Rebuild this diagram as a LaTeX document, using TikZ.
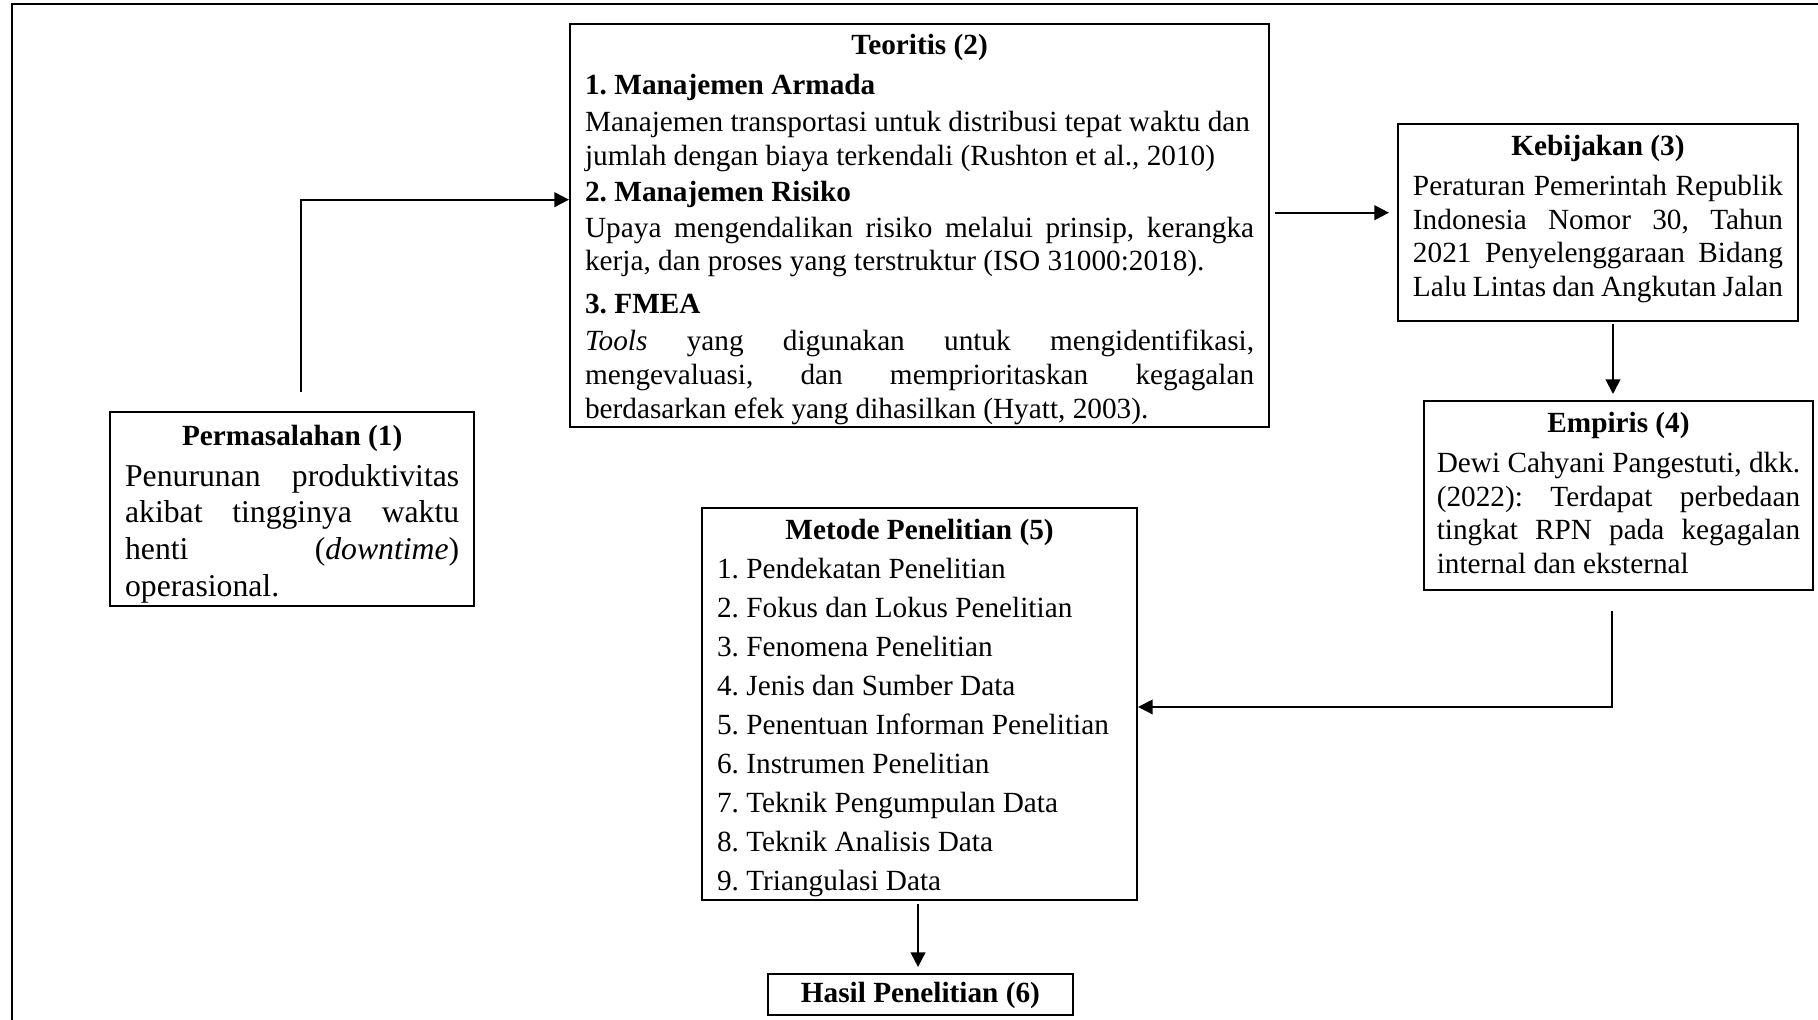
\documentclass[tikz,border=0pt]{standalone}
\usepackage{fontspec}
\setmainfont{Liberation Serif}
\usetikzlibrary{arrows.meta,calc}

\frenchspacing
\newcommand{\penuh}[1]{{\spaceskip=0pt\xspaceskip=0pt\makebox[\linewidth][s]{#1}}}
\newcommand{\judul}[1]{\makebox[\linewidth][c]{\bfseries #1}}

\begin{document}
\begin{tikzpicture}[
x=0.41pt,y=-0.41pt,
kotak/.style={draw, line width=0.8pt, anchor=north west, align=flush left,
  inner xsep=6.2pt, inner ysep=0pt, font=\fontsize{12}{13.8}\selectfont},
panah/.style={line width=0.8pt, -{Triangle[length=6pt,width=6pt]}}
]

% Bingkai luar
\path[use as bounding box, clip] (0,0) rectangle (1818,1020);
\draw[line width=1.2pt] (12,4) rectangle (1850,1050);

% Permasalahan (1)
\node[kotak, text width=137pt, text height=13.8pt, text depth=65.6pt,
  font=\fontsize{13}{15.1}\selectfont] (perm) at (109,411)
{
\judul{\fontsize{12}{15}\selectfont Permasalahan (1)}\\[1.5pt]
\penuh{Penurunan produktivitas}\\
\penuh{akibat tingginya waktu}\\
\penuh{henti (\emph{downtime})}\\
operasional.
};

% Teoritis (2)
\node[kotak, text width=274.3pt, text height=12.4pt, text depth=153pt] (teo) at (569,23)
{
\judul{Teoritis (2)}\\[2.8pt]
\textbf{1. Manajemen Armada}\\[1.4pt]
Manajemen transportasi untuk distribusi tepat waktu dan\\
jumlah dengan biaya terkendali (Rushton et al., 2010)\\[0.9pt]
\textbf{2. Manajemen Risiko}\\[0.9pt]
\penuh{Upaya mengendalikan risiko melalui prinsip, kerangka}\\
kerja, dan proses yang terstruktur (ISO 31000:2018).\\[3.8pt]
\textbf{3. FMEA}\\[1.4pt]
\penuh{\emph{Tools} yang digunakan untuk mengidentifikasi,}\\
\penuh{mengevaluasi, dan memprioritaskan kegagalan}\\
berdasarkan efek yang dihasilkan (Hyatt, 2003).
};

% Kebijakan (3)
\node[kotak, text width=151.7pt, inner xsep=6.15pt, text height=12.8pt, text depth=68pt] (keb) at (1397,123)
{
\judul{Kebijakan (3)}\\[2.7pt]
\penuh{Peraturan Pemerintah Republik}\\
\penuh{Indonesia Nomor 30, Tahun}\\
\penuh{2021 Penyelenggaraan Bidang}\\
\penuh{Lalu Lintas dan Angkutan Jalan}
};

% Empiris (4)
\node[kotak, text width=149pt, inner xsep=5.25pt, text height=12.8pt, text depth=64.7pt] (emp) at (1423,400)
{
\judul{Empiris (4)}\\[2.7pt]
\penuh{Dewi Cahyani Pangestuti, dkk.}\\
\penuh{(2022): Terdapat perbedaan}\\
\penuh{tingkat RPN pada kegagalan}\\
internal dan eksternal
};

% Metode Penelitian (5)
\node[kotak, text width=166pt, text height=12.8pt, text depth=147.9pt,
  font=\fontsize{12}{16}\selectfont] (met) at (701,507)
{
\judul{Metode Penelitian (5)}\\
1. Pendekatan Penelitian\\
2. Fokus dan Lokus Penelitian\\
3. Fenomena Penelitian\\
4. Jenis dan Sumber Data\\
5. Penentuan Informan Penelitian\\
6. Instrumen Penelitian\\
7. Teknik Pengumpulan Data\\
8. Teknik Analisis Data\\
9. Triangulasi Data
};

% Hasil Penelitian (6)
\node[kotak, align=center, minimum width=125pt, text height=11.6pt, text depth=5.2pt,
  font=\fontsize{12}{14}\selectfont\bfseries] (hasil) at (767,973)
{Hasil Penelitian (6)};

% Panah
\draw[panah] ($(perm.north)+(8.5,-19)$) |- ($(teo.west)+(0,-26)$);
\draw[panah] ($(teo.east)+(5,-13)$) coordinate (a) -- ($(keb.west |- a)+(-8,0)$);
\draw[panah] ($(keb.south)+(15,2)$) coordinate (b) -- ($(emp.north -| b)+(0,-6)$);
\draw[panah] ($(emp.south)+(-6.5,20)$) |- ($(met.east)+(0,3)$);
\draw[panah] ($(met.south)+(-1.5,3)$) coordinate (c) -- ($(hasil.north -| c)+(0,-6)$);

\end{tikzpicture}
\end{document}
